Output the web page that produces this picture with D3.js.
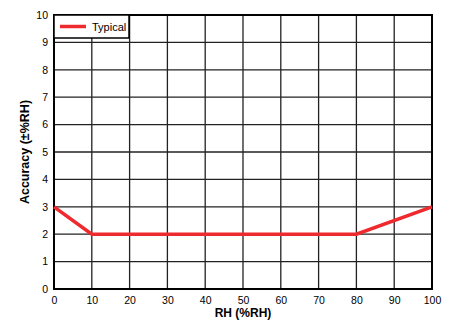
<!DOCTYPE html>
<html>
<head>
<meta charset="utf-8">
<script src="https://cdn.jsdelivr.net/npm/d3@7"></script>
<style>
  body { margin: 0; background: #fff; }
  text { font-family: "Liberation Sans", Arial, sans-serif; }
</style>
</head>
<body>
<div id="chart"></div>
<script>
const width = 453;
const height = 320;
const margin = { top: 15, right: 21, bottom: 31, left: 54 };

// data
const rhValues = [0, 10, 80, 100];
const accuracyValues = [3, 2, 2, 3];
const xTicks = [0, 10, 20, 30, 40, 50, 60, 70, 80, 90, 100];
const yTicks = [0, 1, 2, 3, 4, 5, 6, 7, 8, 9, 10];
const seriesName = "Typical";

const svg = d3.select("#chart")
  .append("svg")
  .attr("width", width)
  .attr("height", height);

const x = d3.scaleLinear().domain([0, 100]).range([margin.left, width - margin.right]);
const y = d3.scaleLinear().domain([0, 10]).range([height - margin.bottom, margin.top]);

// grid
svg.append("g")
  .selectAll("line")
  .data(xTicks)
  .enter()
  .append("line")
  .attr("x1", d => x(d)).attr("x2", d => x(d))
  .attr("y1", y(0)).attr("y2", y(10))
  .attr("stroke", "#222")
  .attr("stroke-width", 1.3);

svg.append("g")
  .selectAll("line")
  .data(yTicks)
  .enter()
  .append("line")
  .attr("y1", d => y(d)).attr("y2", d => y(d))
  .attr("x1", x(0)).attr("x2", x(100))
  .attr("stroke", "#222")
  .attr("stroke-width", 1.3);

// axes labels
const xAxis = svg.append("g")
  .attr("transform", `translate(0,${y(0)})`)
  .call(d3.axisBottom(x).tickValues(xTicks).tickSize(0).tickPadding(8));
xAxis.select(".domain").remove();
xAxis.selectAll("text").attr("font-size", 10.5).attr("fill", "#000");

const yAxis = svg.append("g")
  .attr("transform", `translate(${x(0)},0)`)
  .call(d3.axisLeft(y).tickValues(yTicks).tickSize(0).tickPadding(6));
yAxis.select(".domain").remove();
yAxis.selectAll("text").attr("font-size", 10.5).attr("fill", "#000");

// frame
svg.append("rect")
  .attr("x", x(0)).attr("y", y(10))
  .attr("width", x(100) - x(0))
  .attr("height", y(0) - y(10))
  .attr("fill", "none")
  .attr("stroke", "#000")
  .attr("stroke-width", 2);

// series line
const line = d3.line()
  .x((d, i) => x(rhValues[i]))
  .y(d => y(d));

svg.append("path")
  .datum(accuracyValues)
  .attr("d", line)
  .attr("fill", "none")
  .attr("stroke", "#ee2a2f")
  .attr("stroke-width", 3.5);

// legend
const lg = svg.append("g");
lg.append("rect")
  .attr("x", x(0)).attr("y", y(10))
  .attr("width", 75).attr("height", 23)
  .attr("fill", "#fff")
  .attr("stroke", "#000")
  .attr("stroke-width", 1.5);
lg.append("line")
  .attr("x1", x(0) + 6).attr("x2", x(0) + 32)
  .attr("y1", y(10) + 11.5).attr("y2", y(10) + 11.5)
  .attr("stroke", "#ee2a2f")
  .attr("stroke-width", 3.5);
lg.append("text")
  .attr("x", x(0) + 38).attr("y", y(10) + 15.5)
  .attr("font-size", 11)
  .text(seriesName);

// titles
svg.append("text")
  .attr("x", (x(0) + x(100)) / 2)
  .attr("y", 317)
  .attr("text-anchor", "middle")
  .attr("font-size", 12)
  .attr("font-weight", "bold")
  .text("RH (%RH)");

svg.append("text")
  .attr("transform", `translate(29,${(y(0) + y(10)) / 2}) rotate(-90)`)
  .attr("text-anchor", "middle")
  .attr("font-size", 12.5)
  .attr("font-weight", "bold")
  .text("Accuracy (±%RH)");
</script>
</body>
</html>
